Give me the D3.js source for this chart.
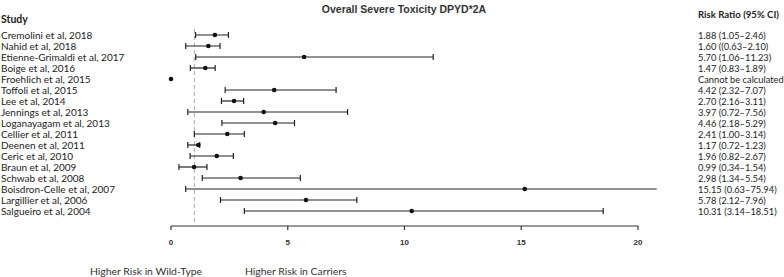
<!DOCTYPE html>
<html><head><meta charset="utf-8">
<script src="https://cdn.jsdelivr.net/npm/d3@7"></script>
<style>body{margin:0;background:#fff}svg{display:block}</style>
</head><body>
<script>
const studies = ["Cremolini et al, 2018","Nahid et al, 2018","Etienne-Grimaldi et al, 2017","Boige et al, 2016","Froehlich et al, 2015","Toffoli et al, 2015","Lee et al, 2014","Jennings et al, 2013","Loganayagam et al, 2013","Cellier et al, 2011","Deenen et al, 2011","Ceric et al, 2010","Braun et al, 2009","Schwab et al, 2008","Boisdron-Celle et al, 2007","Largillier et al, 2006","Salgueiro et al, 2004"];
const rr =    [1.88,1.60,5.70,1.47,0,   4.42,2.70,3.97,4.46,2.41,1.17,1.96,0.99,2.98,15.15,5.78,10.31];
const lower = [1.05,0.63,1.06,0.83,null,2.32,2.16,0.72,2.18,1.00,0.72,0.82,0.34,1.34,0.63,2.12,3.14];
const upper = [2.46,2.10,11.23,1.89,null,7.07,3.11,7.56,5.29,3.14,1.23,2.67,1.54,5.54,75.94,7.96,18.51];
const rrLabels = ["1.88 (1.05\u20132.46)","1.60 ((0.63\u20132.10)","5.70 (1.06\u201311.23)","1.47 (0.83\u20131.89)","Cannot be calculated","4.42 (2.32\u20137.07)","2.70 (2.16\u20133.11)","3.97 (0.72\u20137.56)","4.46 (2.18\u20135.29)","2.41 (1.00\u20133.14)","1.17 (0.72\u20131.23)","1.96 (0.82\u20132.67)","0.99 (0.34\u20131.54)","2.98 (1.34\u20135.54)","15.15 (0.63\u201375.94)","5.78 (2.12\u20137.96)","10.31 (3.14\u201318.51)"];
const ticks = [0,5,10,15,20];

const W=784,H=277;
const svg=d3.select("body").append("svg").attr("width",W).attr("height",H);
const x=d3.scaleLinear().domain([0,20]).range([171,638]);
const clipMax=20.8;
const y=d3.scalePoint().domain(d3.range(studies.length)).range([35,211]);
const labelFont="Lato, 'Open Sans', sans-serif";

svg.append("text").attr("x",404).attr("y",13).attr("text-anchor","middle")
  .attr("font-family","'Liberation Sans', Arial, sans-serif").attr("font-weight","bold")
  .attr("font-size",10.5).attr("fill","#333").text("Overall Severe Toxicity DPYD*2A");

svg.append("text").attr("x",1).attr("y",23).attr("font-family",labelFont).attr("font-weight","bold")
  .attr("font-size",10.5).attr("fill","#222").text("Study");
svg.append("text").attr("x",698).attr("y",18).attr("font-family",labelFont).attr("font-weight","bold")
  .attr("font-size",9.6).attr("fill","#222").text("Risk Ratio (95% CI)");

// reference line at 1
svg.append("line").attr("x1",x(1)).attr("x2",x(1)).attr("y1",29).attr("y2",222)
  .attr("stroke","#aaa").attr("stroke-dasharray","4,3").attr("stroke-width",1);

const g=svg.append("g");
studies.forEach((s,i)=>{
  const yy=y(i);
  g.append("text").attr("x",1).attr("y",yy+3.5).attr("font-family",labelFont)
    .attr("font-size",10).attr("fill","#222").text(s);
  g.append("text").attr("x",698).attr("y",yy+3.5).attr("font-family",labelFont)
    .attr("font-size",9.3).attr("fill","#222").text(rrLabels[i]);
  if(lower[i]!==null){
    const hi=Math.min(upper[i],clipMax);
    g.append("line").attr("x1",x(lower[i])).attr("x2",x(hi)).attr("y1",yy).attr("y2",yy)
      .attr("stroke","#222").attr("stroke-width",1.2);
    g.append("line").attr("x1",x(lower[i])).attr("x2",x(lower[i])).attr("y1",yy-3).attr("y2",yy+3)
      .attr("stroke","#222").attr("stroke-width",1.2);
    if(upper[i]<=clipMax){
      g.append("line").attr("x1",x(upper[i])).attr("x2",x(upper[i])).attr("y1",yy-3).attr("y2",yy+3)
        .attr("stroke","#222").attr("stroke-width",1.2);
    }
  }
  g.append("circle").attr("cx",x(rr[i])).attr("cy",yy).attr("r",2.3).attr("fill","#111");
});

// axis
const ax=svg.append("g").attr("transform","translate(0,226)");
ax.append("line").attr("x1",x(0)).attr("x2",x(20)).attr("stroke","#333").attr("stroke-width",1.2);
ticks.forEach(t=>{
  ax.append("line").attr("x1",x(t)).attr("x2",x(t)).attr("y1",0).attr("y2",4).attr("stroke","#333").attr("stroke-width",1.2);
  ax.append("text").attr("x",x(t)).attr("y",19).attr("text-anchor","middle")
    .attr("font-family","'Liberation Sans', Arial, sans-serif").attr("font-weight","bold")
    .attr("font-size",8).attr("fill","#333").text(t);
});

svg.append("text").attr("x",90).attr("y",275).attr("font-family",labelFont)
  .attr("font-size",10.4).attr("fill","#333").text("Higher Risk in Wild-Type");
svg.append("text").attr("x",245).attr("y",275).attr("font-family",labelFont)
  .attr("font-size",10.4).attr("fill","#333").text("Higher Risk in Carriers");
</script>
</body></html>
